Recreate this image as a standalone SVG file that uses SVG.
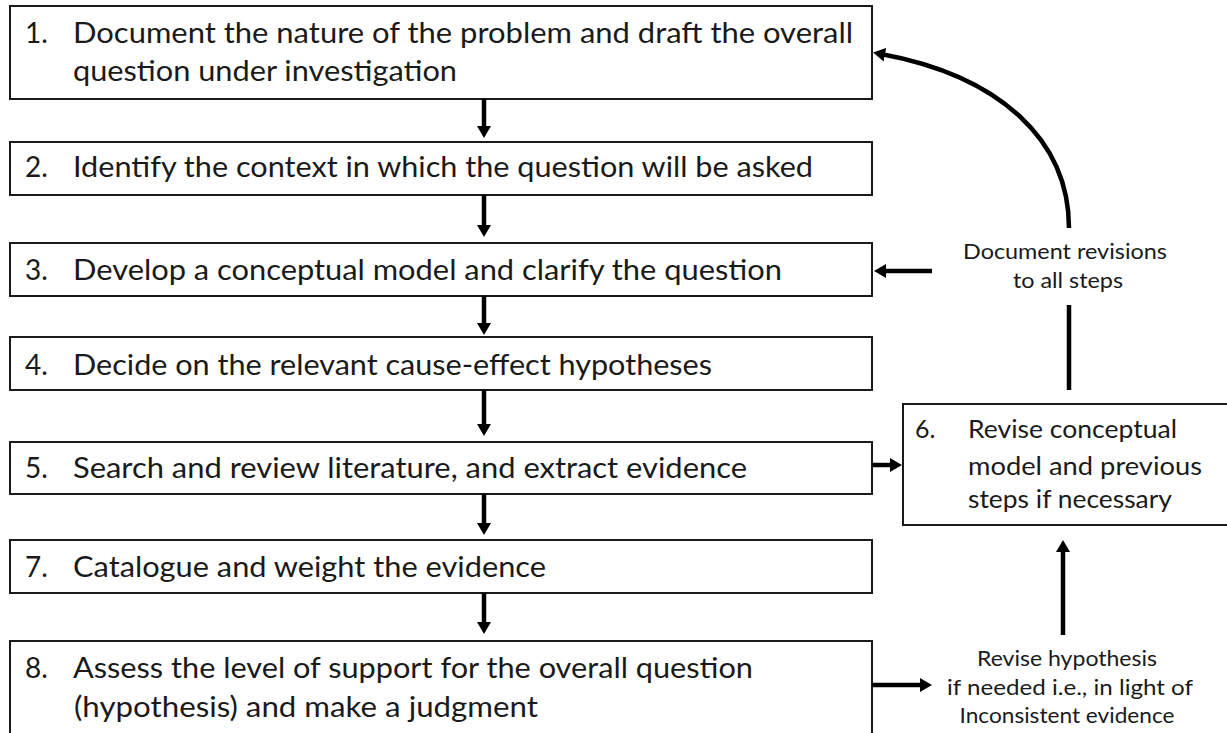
<svg xmlns="http://www.w3.org/2000/svg" width="1227" height="733" viewBox="0 0 1227 733">
<style>
.box{fill:#fff;stroke:#1a1a1a;stroke-width:2}
.t{font-family:Lato,"Open Sans","Liberation Sans",sans-serif;font-size:28px;fill:#1a1a1a}
.s{font-family:Lato,"Open Sans","Liberation Sans",sans-serif;font-size:25px;fill:#1a1a1a}
.l{font-family:Lato,"Open Sans","Liberation Sans",sans-serif;font-size:21px;fill:#1a1a1a;text-anchor:middle}
.c{fill:none;stroke:#000;stroke-width:4.5}
</style>
<defs>
<marker id="ah" viewBox="0 0 12 14" refX="4" refY="7" markerWidth="12" markerHeight="14" markerUnits="userSpaceOnUse" orient="auto">
<path d="M0,0 L12,7 L0,14 z" fill="#000"/>
</marker>
</defs>
<rect width="1227" height="733" fill="#fff"/>
<g id="step1">
<rect class="box" x="10" y="6" width="862" height="93"/>
<text class="t" x="25" y="43">1.</text>
<text class="t" x="73" y="43" textLength="780" lengthAdjust="spacingAndGlyphs">Document the nature of the problem and draft the overall</text>
<text class="t" x="73" y="81" textLength="384" lengthAdjust="spacingAndGlyphs">question under investigation</text>
</g>
<g id="step2">
<rect class="box" x="10" y="142" width="862" height="53"/>
<text class="t" x="25" y="177">2.</text>
<text class="t" x="73" y="177" textLength="740" lengthAdjust="spacingAndGlyphs">Identify the context in which the question will be asked</text>
</g>
<g id="step3">
<rect class="box" x="10" y="243" width="862" height="53"/>
<text class="t" x="25" y="280">3.</text>
<text class="t" x="73" y="280" textLength="709" lengthAdjust="spacingAndGlyphs">Develop a conceptual model and clarify the question</text>
</g>
<g id="step4">
<rect class="box" x="10" y="337" width="862" height="53"/>
<text class="t" x="25" y="375">4.</text>
<text class="t" x="73" y="375" textLength="639" lengthAdjust="spacingAndGlyphs">Decide on the relevant cause-effect hypotheses</text>
</g>
<g id="step5">
<rect class="box" x="10" y="442" width="862" height="52"/>
<text class="t" x="25" y="478">5.</text>
<text class="t" x="73" y="478" textLength="674" lengthAdjust="spacingAndGlyphs">Search and review literature, and extract evidence</text>
</g>
<g id="step7">
<rect class="box" x="10" y="540" width="862" height="53"/>
<text class="t" x="25" y="577">7.</text>
<text class="t" x="73" y="577" textLength="473" lengthAdjust="spacingAndGlyphs">Catalogue and weight the evidence</text>
</g>
<g id="step8">
<rect class="box" x="10" y="641" width="862" height="100"/>
<text class="t" x="25" y="678">8.</text>
<text class="t" x="73" y="678" textLength="680" lengthAdjust="spacingAndGlyphs">Assess the level of support for the overall question</text>
<text class="t" x="74" y="717" textLength="464" lengthAdjust="spacingAndGlyphs">(hypothesis) and make a judgment</text>
</g>
<g id="step6">
<rect class="box" x="903" y="404" width="330" height="121"/>
<text class="s" x="915" y="438">6.</text>
<text class="s" x="968" y="438" textLength="209" lengthAdjust="spacingAndGlyphs">Revise conceptual</text>
<text class="s" x="968" y="475" textLength="234" lengthAdjust="spacingAndGlyphs">model and previous</text>
<text class="s" x="968" y="508" textLength="204" lengthAdjust="spacingAndGlyphs">steps if necessary</text>
</g>
<g id="label-revisions">
<text class="l" x="1065" y="259" textLength="204" lengthAdjust="spacingAndGlyphs">Document revisions</text>
<text class="l" x="1068" y="288" textLength="110" lengthAdjust="spacingAndGlyphs">to all steps</text>
</g>
<g id="label-hypothesis">
<text class="l" x="1067" y="666" textLength="180" lengthAdjust="spacingAndGlyphs">Revise hypothesis</text>
<text class="l" x="1070" y="695" textLength="246" lengthAdjust="spacingAndGlyphs">if needed i.e., in light of</text>
<text class="l" x="1067" y="723" textLength="215" lengthAdjust="spacingAndGlyphs">Inconsistent evidence</text>
</g>
<g id="connectors">
<line class="c" x1="484" y1="99" x2="484" y2="130" marker-end="url(#ah)"/>
<line class="c" x1="484" y1="195" x2="484" y2="229" marker-end="url(#ah)"/>
<line class="c" x1="484" y1="296" x2="484" y2="327" marker-end="url(#ah)"/>
<line class="c" x1="484" y1="390" x2="484" y2="428" marker-end="url(#ah)"/>
<line class="c" x1="484" y1="494" x2="484" y2="527" marker-end="url(#ah)"/>
<line class="c" x1="484" y1="593" x2="484" y2="626" marker-end="url(#ah)"/>
<line class="c" x1="932" y1="271" x2="882" y2="271" marker-end="url(#ah)"/>
<line class="c" x1="872" y1="465" x2="894" y2="465" marker-end="url(#ah)"/>
<line class="c" x1="872" y1="685" x2="924" y2="685" marker-end="url(#ah)"/>
<line class="c" x1="1063" y1="635" x2="1063" y2="548" marker-end="url(#ah)"/>
<line class="c" x1="1069" y1="305" x2="1069" y2="390"/>
<path class="c" d="M1069,228 C1069,140 1000,76 881,54" marker-end="url(#ah)"/>
</g>
</svg>
